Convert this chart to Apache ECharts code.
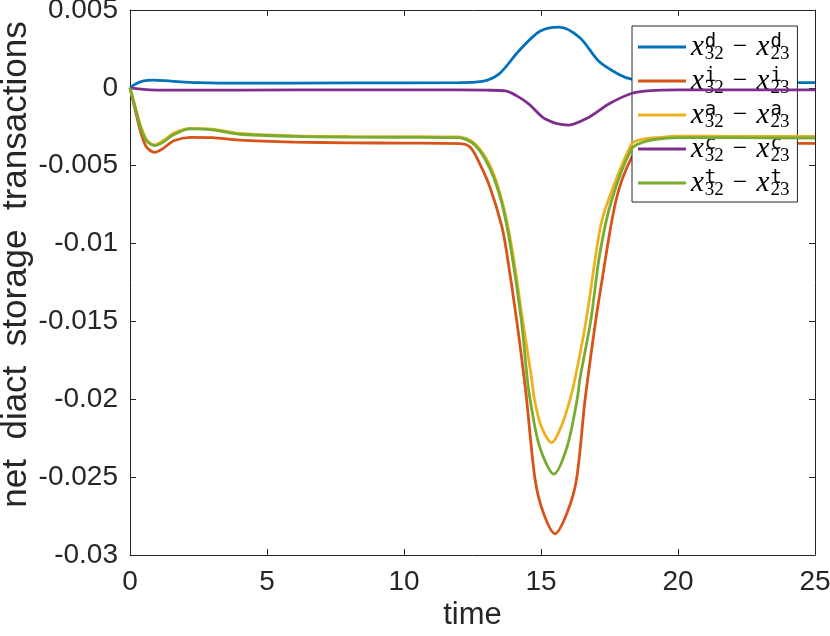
<!DOCTYPE html>
<html>
<head>
<meta charset="utf-8">
<script src="https://cdn.jsdelivr.net/npm/echarts@6/dist/echarts.min.js"></script>
<style>
html,body{margin:0;padding:0;background:#fff;}
#c{width:830px;height:636px;}
</style>
</head>
<body>
<div id="c"></div>
<script>
// ---- data ----
const xTicks = [0, 5, 10, 15, 20, 25];
const yTicks = [-0.03, -0.025, -0.02, -0.015, -0.01, -0.005, 0, 0.005];

const tD = [0, 0.2, 0.5, 0.84, 1.5, 2.5, 4, 8, 12, 12.8, 13.46, 14.19, 14.96, 15.67, 16.42, 17.1, 17.83, 18.3, 19, 20, 22, 25];
const vD = [0, 0.00025, 0.00045, 0.0005, 0.00043, 0.00034, 0.0003, 0.00032, 0.00034, 0.0004, 0.00088, 0.00237, 0.00364, 0.0039, 0.00322, 0.00173, 0.00088, 0.00056, 0.0004, 0.00035, 0.00034, 0.00034];

const tI = [0, 0.2, 0.4, 0.6, 0.9, 1.2, 1.6, 2.2, 3, 4, 6, 8, 10, 12, 12.41, 12.77, 13.14, 13.57, 13.75, 14.11, 14.45, 14.78, 15.08, 15.51, 15.96, 16.3, 16.61, 17.0, 17.15, 17.74, 18.31, 18.7, 19.2, 20, 22, 25];
const vI = [0, -0.0015, -0.0029, -0.0038, -0.00414, -0.0039, -0.0034, -0.00318, -0.0032, -0.00336, -0.00348, -0.00353, -0.00355, -0.00358, -0.0038, -0.0049, -0.0064, -0.0089, -0.0106, -0.0149, -0.0196, -0.0251, -0.02726, -0.02864, -0.02726, -0.0251, -0.0200, -0.0149, -0.0132, -0.0072, -0.00446, -0.0039, -0.0037, -0.0036, -0.00356, -0.00356];

const tA = [0, 0.2, 0.4, 0.6, 0.9, 1.2, 1.6, 2.2, 3, 4, 6, 8, 10, 12, 12.6, 13.14, 13.57, 13.93, 14.33, 14.66, 14.76, 15.0, 15.39, 15.75, 16.06, 16.24, 16.65, 17.15, 17.46, 18.31, 18.7, 19.2, 20, 22, 25];
const vA = [0, -0.0013, -0.0025, -0.0033, -0.00366, -0.0034, -0.0029, -0.0026, -0.00265, -0.00293, -0.00308, -0.00312, -0.00313, -0.00315, -0.0036, -0.0050, -0.0072, -0.0102, -0.0149, -0.0187, -0.0200, -0.0217, -0.02278, -0.0217, -0.0200, -0.0187, -0.0149, -0.0091, -0.0072, -0.0036, -0.0033, -0.0032, -0.0031, -0.00311, -0.00311];

const tC = [0, 0.5, 1, 2, 4, 8, 12, 13, 13.7, 14.1, 14.56, 15.16, 16.0, 16.74, 17.47, 18.3, 19, 20, 22, 25];
const vC = [0, -0.0001, -0.00014, -0.00015, -0.00014, -0.00013, -0.00013, -0.00015, -0.0002, -0.0005, -0.00104, -0.002, -0.00239, -0.0019, -0.00104, -0.00036, -0.00018, -0.00013, -0.00013, -0.00013];

const tT = [0, 0.2, 0.4, 0.6, 0.9, 1.2, 1.6, 2.2, 3, 4, 6, 8, 10, 12, 12.6, 13.14, 13.57, 13.9, 14.28, 14.5, 14.6, 14.94, 15.47, 15.96, 16.32, 16.42, 16.82, 17.15, 17.58, 18.31, 18.7, 19.2, 20, 22, 25];
const vT = [0, -0.0013, -0.0026, -0.0034, -0.00371, -0.0035, -0.0030, -0.00264, -0.0027, -0.00298, -0.00312, -0.00317, -0.00318, -0.0032, -0.0037, -0.0052, -0.0074, -0.0103, -0.0149, -0.0187, -0.0200, -0.0230, -0.0248, -0.0230, -0.0200, -0.0187, -0.0149, -0.0106, -0.0072, -0.0039, -0.0035, -0.0033, -0.0032, -0.0032, -0.00322];

const seriesNames = ['d', 'i', 'a', 'c', 't'];
const seriesColors = ['#0072BD', '#D95319', '#EDB120', '#7E2F8E', '#77AC30'];
const seriesT = [tD, tI, tA, tC, tT];
const seriesV = [vD, vI, vA, vC, vT];

// ---- chart ----
const chart = echarts.init(document.getElementById('c'), null, {renderer: 'canvas'});
const axisColor = '#262626';
const labelFont = 'Liberation Sans, Arial, Helvetica, sans-serif';

function pairs(t, v) { return t.map((x, k) => [x, v[k]]); }

const series = seriesNames.map((n, k) => ({
  name: n,
  type: 'line',
  data: pairs(seriesT[k], seriesV[k]),
  smooth: 0.3,
  symbol: 'none',
  lineStyle: {color: seriesColors[k], width: 2.8},
  itemStyle: {color: seriesColors[k]},
  z: 2 + k,
  animation: false
}));

const baseX = {
  type: 'value', min: xTicks[0], max: xTicks[xTicks.length - 1], interval: 5,
  axisLine: {show: true, onZero: false, lineStyle: {color: axisColor, width: 1}},
  axisTick: {show: true, inside: true, length: 6, lineStyle: {color: axisColor}},
  splitLine: {show: false}
};
const baseY = {
  type: 'value', min: yTicks[0], max: yTicks[yTicks.length - 1], interval: 0.005,
  axisLine: {show: true, onZero: false, lineStyle: {color: axisColor, width: 1}},
  axisTick: {show: true, inside: true, length: 6, lineStyle: {color: axisColor}},
  splitLine: {show: false}
};

const legendRich = {
  x: {fontFamily: 'Liberation Serif, serif', fontStyle: 'italic', fontSize: 29, lineHeight: 34, color: '#000'},
  sup: {fontFamily: 'DejaVu Sans Mono, Liberation Mono, monospace', fontSize: 19, lineHeight: 19, width: 0, verticalAlign: 'top', padding: [3, 0, 0, 1], color: '#000'},
  sub: {fontFamily: 'Liberation Serif, serif', fontSize: 19, lineHeight: 15, verticalAlign: 'bottom', color: '#000'},
  m: {fontFamily: 'Liberation Serif, serif', fontSize: 26, lineHeight: 34, padding: [0, 9, 0, 9], color: '#000'}
};

chart.setOption({
  backgroundColor: '#fff',
  animation: false,
  grid: {left: 130, right: 15, top: 10, bottom: 81, containLabel: false, outerBoundsMode: 'none'},
  xAxis: [
    Object.assign({}, baseX, {
      position: 'bottom',
      name: 'time', nameLocation: 'middle', nameGap: 45, nameMoveOverlap: false,
      nameTextStyle: {fontFamily: labelFont, fontSize: 31, color: axisColor},
      axisLabel: {show: true, fontFamily: labelFont, fontSize: 28, color: axisColor, margin: 13}
    }),
    Object.assign({}, baseX, {position: 'top', axisLabel: {show: false}})
  ],
  yAxis: [
    Object.assign({}, baseY, {
      position: 'left',
      name: 'net  diact  storage  transactions', nameLocation: 'middle', nameGap: 96, nameMoveOverlap: false,
      nameTextStyle: {fontFamily: labelFont, fontSize: 35, color: axisColor, padding: [0, 0, 0, 36]},
      axisLabel: {show: true, fontFamily: labelFont, fontSize: 28, color: axisColor, margin: 12, padding: [6, 0, 0, 0]}
    }),
    Object.assign({}, baseY, {position: 'right', axisLabel: {show: false}})
  ],
  legend: {
    show: true,
    orient: 'vertical',
    left: 632, top: 26,
    padding: [4, 8, 2, 6],
    itemGap: 0,
    itemWidth: 48,
    itemHeight: 3,
    icon: 'rect',
    backgroundColor: '#fff',
    borderColor: '#262626',
    borderWidth: 1,
    borderRadius: 0,
    selectedMode: false,
    data: seriesNames,
    formatter: function (name) {
      return '{x|x}{sup|' + name + '}{sub|32}{m|\u2212}{x|x}{sup|' + name + '}{sub|23}';
    },
    textStyle: {rich: legendRich}
  },
  series: series
});
</script>
</body>
</html>
